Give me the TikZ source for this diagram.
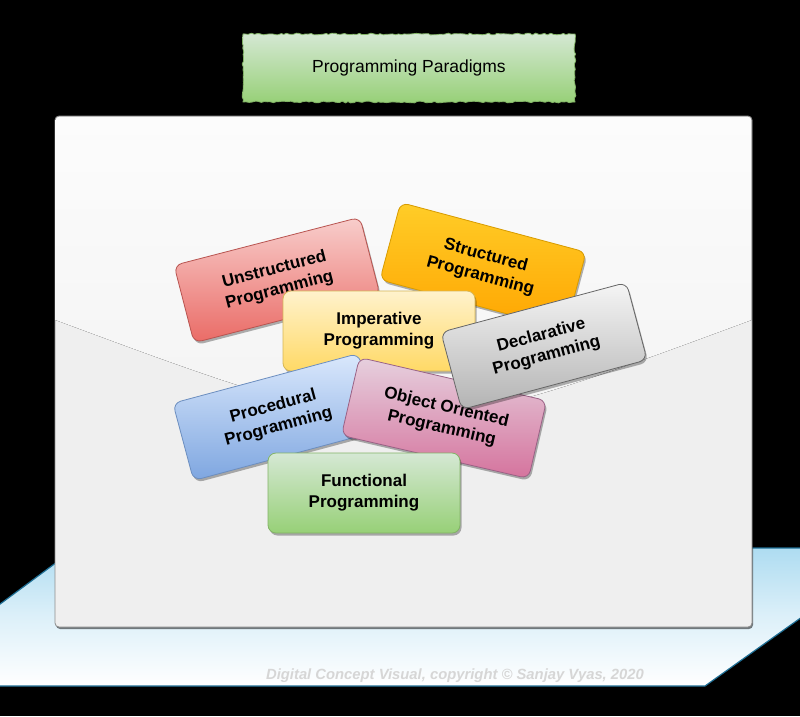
\documentclass[tikz,border=0pt]{standalone}
\usepackage{fontspec}
\setmainfont{Liberation Sans}
\usetikzlibrary{shadows,decorations.pathmorphing}
\definecolor{redT}{HTML}{F8CECC}\definecolor{redB}{HTML}{EA6B66}\definecolor{redS}{HTML}{B85450}
\definecolor{orgT}{HTML}{FFCD28}\definecolor{orgB}{HTML}{FFA500}\definecolor{orgS}{HTML}{D79B00}
\definecolor{yelT}{HTML}{FFF2CC}\definecolor{yelB}{HTML}{FFD966}\definecolor{yelS}{HTML}{D6B656}
\definecolor{gryT}{HTML}{F5F5F5}\definecolor{gryB}{HTML}{B3B3B3}\definecolor{gryS}{HTML}{666666}
\definecolor{bluT}{HTML}{DAE8FC}\definecolor{bluB}{HTML}{7EA6E0}\definecolor{bluS}{HTML}{6C8EBF}
\definecolor{pnkT}{HTML}{E6D0DE}\definecolor{pnkB}{HTML}{D5739D}\definecolor{pnkS}{HTML}{996185}
\definecolor{grnT}{HTML}{D5E8D4}\definecolor{grnB}{HTML}{97D077}\definecolor{grnS}{HTML}{82B366}
\definecolor{floorT}{HTML}{AEDCF1}\definecolor{floorM}{HTML}{DDF0F9}\definecolor{floorS}{HTML}{1E6E94}
\definecolor{panelB}{HTML}{EFEFEF}\definecolor{panelS}{HTML}{8C8C8C}
\definecolor{glassT}{HTML}{FCFCFC}\definecolor{glassB}{HTML}{F3F3F3}
\definecolor{creditC}{HTML}{D6D6D6}
\tikzset{
  card/.style={rounded corners=8pt, minimum width=192pt, minimum height=80pt,
    align=center, inner sep=2pt, line width=0.8pt,
    font=\fontsize{17}{21}\selectfont\bfseries,
    drop shadow={shadow xshift=1.5pt, shadow yshift=-2.5pt, opacity=0.3, fill=black}},
  titlebox/.style={minimum width=332pt, minimum height=68pt, inner sep=0pt,
    top color=grnT, bottom color=grnB, draw=grnS, line width=0.8pt,
    decorate, decoration={random steps, segment length=3pt, amplitude=0.9pt},
    font=\fontsize{17.5}{20}\selectfont},
  panelbox/.style={rounded corners=4pt, fill=panelB, draw=panelS, line width=0.8pt,
    drop shadow={shadow xshift=1pt, shadow yshift=-2pt, opacity=0.5, fill=black}},
}
\begin{document}
\begin{tikzpicture}[x=1pt,y=-1pt]
\pgfmathsetseed{7}
\useasboundingbox (0,0) rectangle (800,716);
\fill[black] (0,0) rectangle (800,716);
\clip (0,0) rectangle (800,716);
% floor
\path[top color=floorT, bottom color=white, middle color=floorM, draw=floorS, line width=1.2pt]
  (76,548) -- (899,548) -- (705,686) -- (-111,686) -- cycle;
% panel
\path[panelbox] (55,116) rectangle (752,627);
\fill[top color=glassT, bottom color=glassB, rounded corners=4pt]
  (55.4,320) -- (55.4,116.4) -- (751.6,116.4) [sharp corners] -- (751.6,320)
  .. controls (403,449) .. (55.4,320) -- cycle;
% title
\node[titlebox] (title) at (409,68) {Programming Paradigms};
% cards
\node[card, rotate=14.5, top color=redT, bottom color=redB, draw=redS] (unstr) at (277,280) {Unstructured\\Programming};
\node[card, rotate=-15, top color=orgT, bottom color=orgB, draw=orgS] (str) at (483,266) {Structured\\Programming};
\node[card, top color=yelT, bottom color=yelB, draw=yelS] (imp) at (379,331) {Imperative\\Programming};
\node[card, rotate=15, top color=bluT, bottom color=bluB, draw=bluS] (proc) at (276,417) {Procedural\\Programming};
\node[card, rotate=-13, top color=pnkT, bottom color=pnkB, draw=pnkS] (oop) at (444,418) {Object Oriented\\Programming};
\node[card, rotate=15, top color=gryT, bottom color=gryB, draw=gryS] (decl) at (544,346) {Declarative\\Programming};
\node[card, top color=grnT, bottom color=grnB, draw=grnS] (func) at (364,493) {Functional\\Programming};
% credit
\node[font=\fontsize{14.8}{16}\selectfont\bfseries\itshape, text=creditC] (credit) at (455,676) {Digital Concept Visual, copyright © Sanjay Vyas, 2020};
\end{tikzpicture}
\end{document}
